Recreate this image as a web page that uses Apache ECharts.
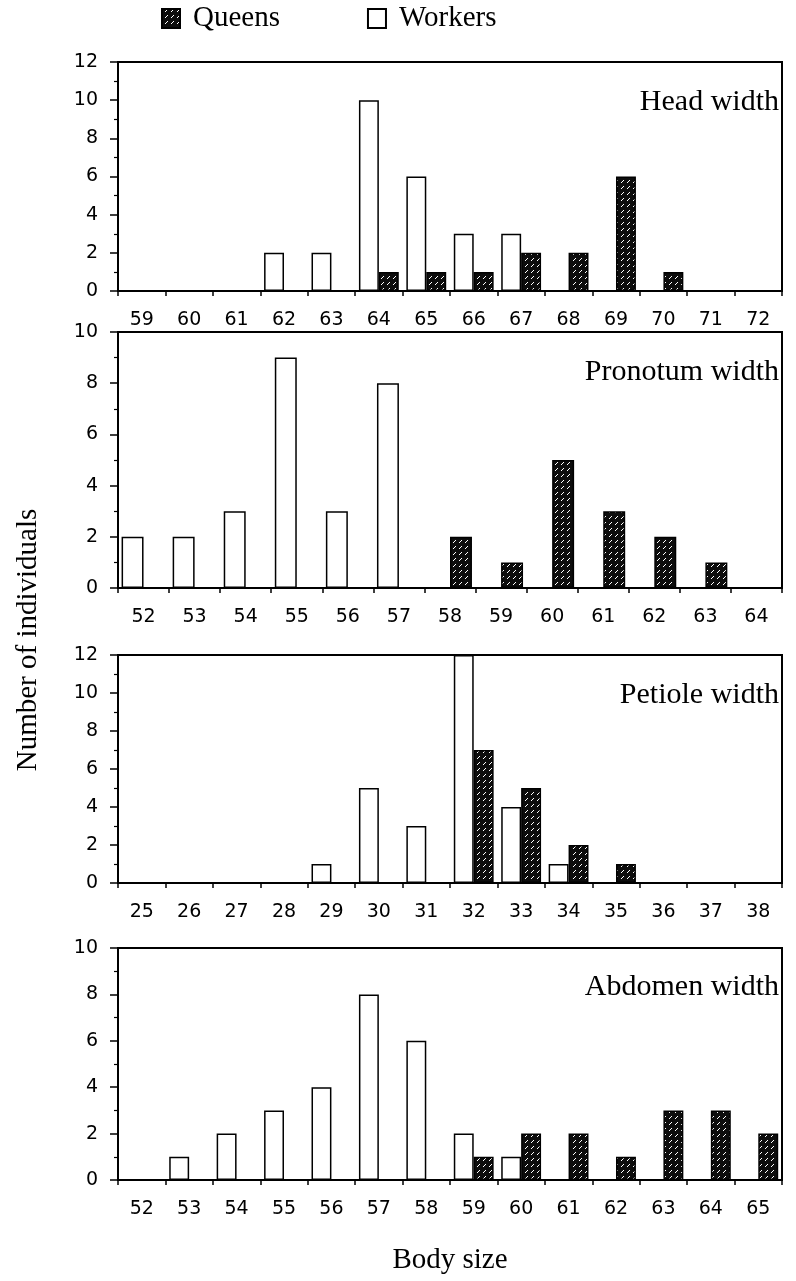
<!DOCTYPE html>
<html>
<head>
<meta charset="utf-8">
<script src="https://cdn.jsdelivr.net/npm/echarts@6/dist/echarts.min.js"></script>
<style>
  html, body { margin: 0; padding: 0; background: #fff; }
  #chart { width: 796px; height: 1281px; }
</style>
</head>
<body>
<div id="chart"></div>
<script>
// ---- Data ----
const legendNames = ['Queens', 'Workers'];
const panelTitles = ['Head width', 'Pronotum width', 'Petiole width', 'Abdomen width'];

const headCats = ['59','60','61','62','63','64','65','66','67','68','69','70','71','72'];
const headWorkers = [0,0,0,2,2,10,6,3,3,0,0,0,0,0];
const headQueens  = [0,0,0,0,0,1,1,1,2,2,6,1,0,0];

const pronCats = ['52','53','54','55','56','57','58','59','60','61','62','63','64'];
const pronWorkers = [2,2,3,9,3,8,0,0,0,0,0,0,0];
const pronQueens  = [0,0,0,0,0,0,2,1,5,3,2,1,0];

const petCats = ['25','26','27','28','29','30','31','32','33','34','35','36','37','38'];
const petWorkers = [0,0,0,0,1,5,3,12,4,1,0,0,0,0];
const petQueens  = [0,0,0,0,0,0,0,7,5,2,1,0,0,0];

const abdCats = ['52','53','54','55','56','57','58','59','60','61','62','63','64','65'];
const abdWorkers = [0,1,2,3,4,8,6,2,1,0,0,0,0,0];
const abdQueens  = [0,0,0,0,0,0,0,1,2,2,1,3,3,2];

const yMax = [12, 10, 12, 10];
const yTitle = 'Number of individuals';
const xTitle = 'Body size';

// ---- Styling / layout ----
function makeHatch() {
  const c = document.createElement('canvas');
  c.width = 6; c.height = 6;
  const ctx = c.getContext('2d');
  ctx.fillStyle = '#0d0d0d';
  ctx.fillRect(0, 0, 6, 6);
  ctx.fillStyle = '#fff';
  [[5,0],[4,1],[3,2]].forEach(p => ctx.fillRect(p[0], p[1], 1, 1));
  return c;
}
const hatch = { image: makeHatch(), repeat: 'repeat' };

const panels = [
  { cats: headCats, workers: headWorkers, queens: headQueens, top: 62, height: 229, gap: '16%', titleTop: 84 },
  { cats: pronCats, workers: pronWorkers, queens: pronQueens, top: 332, height: 256, gap: '14%', titleTop: 354 },
  { cats: petCats, workers: petWorkers, queens: petQueens, top: 655, height: 228, gap: '16%', titleTop: 677 },
  { cats: abdCats, workers: abdWorkers, queens: abdQueens, top: 948, height: 232, gap: '16%', titleTop: 969 }
];

const tickFont = { fontFamily: 'DejaVu Sans', fontSize: 19, color: '#000' };
const serif = 'Liberation Serif';

const grid = [], xAxis = [], yAxis = [], series = [], title = [];
panels.forEach((p, i) => {
  grid.push({ left: 118, right: 14, top: p.top, height: p.height, show: true,
              borderColor: '#000', borderWidth: 2, backgroundColor: 'transparent' });
  xAxis.push({
    type: 'category', gridIndex: i, data: p.cats,
    axisLine: { lineStyle: { color: '#000', width: 2 } },
    axisTick: { show: true, length: 5, lineStyle: { color: '#000', width: 1.5 } },
    axisLabel: Object.assign({ margin: 20, interval: 0 }, tickFont),
    splitLine: { show: false },
    name: i === 3 ? xTitle : '',
    nameLocation: 'middle', nameGap: 66,
    nameTextStyle: { fontFamily: serif, fontSize: 29, color: '#000' }
  });
  yAxis.push({
    type: 'value', gridIndex: i, min: 0, max: yMax[i], interval: 2,
    axisLine: { show: true, lineStyle: { color: '#000', width: 2 } },
    axisTick: { show: true, length: 8, lineStyle: { color: '#000', width: 1.5 } },
    minorTick: { show: true, splitNumber: 2, length: 4, lineStyle: { color: '#000', width: 1.2 } },
    axisLabel: Object.assign({ margin: 20 }, tickFont),
    splitLine: { show: false }
  });
  series.push({
    name: 'Workers', type: 'bar', xAxisIndex: i, yAxisIndex: i, data: p.workers,
    barGap: '0%', barCategoryGap: p.gap,
    itemStyle: { color: '#fff', borderColor: '#000', borderWidth: 1.5 }
  });
  series.push({
    name: 'Queens', type: 'bar', xAxisIndex: i, yAxisIndex: i, data: p.queens,
    barGap: '0%', barCategoryGap: p.gap,
    itemStyle: { color: hatch, borderColor: '#000', borderWidth: 1.5 }
  });
  title.push({
    text: panelTitles[i], right: 12, top: p.titleTop - 2,
    textStyle: { fontFamily: serif, fontSize: 30, fontWeight: 'normal', color: '#000' }
  });
});

const chart = echarts.init(document.getElementById('chart'), null, { renderer: 'canvas' });
chart.setOption({
  animation: false,
  backgroundColor: '#fff',
  title: title,
  legend: {
    data: legendNames, left: 156, top: -1, itemWidth: 18, itemHeight: 19, itemGap: 87,
    selectedMode: false, icon: 'rect',
    textStyle: { fontFamily: serif, fontSize: 29, color: '#000', padding: [0, 0, 0, 8] }
  },
  grid: grid, xAxis: xAxis, yAxis: yAxis, series: series,
  graphic: [{
    type: 'text', x: 28, y: 640, rotation: Math.PI / 2,
    style: { text: yTitle, font: '29px "Liberation Serif"', fill: '#000',
             textAlign: 'center', textVerticalAlign: 'middle' }
  }]
});
</script>
</body>
</html>
